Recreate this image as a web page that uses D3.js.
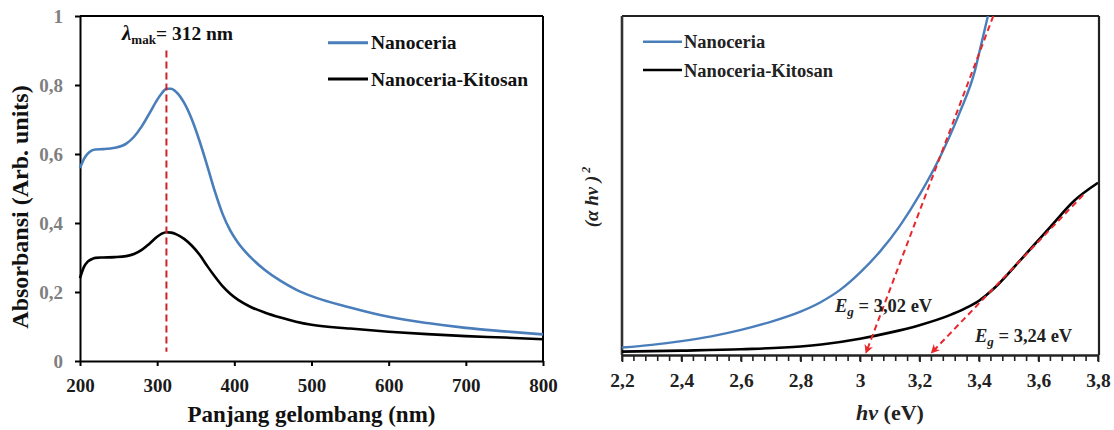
<!DOCTYPE html>
<html><head><meta charset="utf-8">
<script src="https://cdn.jsdelivr.net/npm/d3@7"></script>
<style>
body{margin:0;background:#fff}
svg{display:block}
text{font-family:"Liberation Serif","Times New Roman",serif;font-weight:bold}
</style>
</head><body>
<svg id="chart" width="1114" height="430"></svg>
<script>
// ---------- Left panel data: UV-Vis absorbance ----------
const wavelength = [200,205,210,215,220,230,245,260,270,280,290,300,306,312,318,325,335,345,355,365,375,385,395,405,420,440,460,480,500,550,600,650,700,750,800];
const absNanoceria = [0.559,0.585,0.601,0.610,0.613,0.614,0.618,0.630,0.650,0.680,0.718,0.757,0.776,0.789,0.789,0.779,0.748,0.700,0.637,0.565,0.490,0.425,0.377,0.342,0.303,0.263,0.232,0.207,0.188,0.155,0.128,0.110,0.096,0.086,0.077];
const absKitosan = [0.240,0.272,0.288,0.295,0.299,0.300,0.301,0.304,0.310,0.322,0.340,0.360,0.369,0.373,0.372,0.367,0.354,0.334,0.308,0.275,0.244,0.216,0.194,0.177,0.158,0.140,0.126,0.114,0.105,0.094,0.085,0.078,0.072,0.068,0.063];
const lambdaMax = 312;
const absTicks = [0,0.2,0.4,0.6,0.8,1];
const wlTicks = [200,300,400,500,600,700,800];

// ---------- Right panel data: Tauc plot ----------
const hvNanoceria = [2.2,2.3,2.4,2.5,2.6,2.7,2.8,2.866,2.933,3.0,3.067,3.134,3.202,3.269,3.336,3.387,3.403,3.43];
const taucNanoceria = [0.022,0.030,0.041,0.055,0.074,0.098,0.128,0.155,0.192,0.243,0.305,0.381,0.475,0.584,0.717,0.841,0.900,1.0];
const hvKitosan = [2.2,2.4,2.6,2.8,2.87,3.0,3.1,3.2,3.3,3.35,3.4,3.45,3.53,3.64,3.72,3.8];
const taucKitosan = [0.010,0.013,0.017,0.025,0.031,0.048,0.066,0.088,0.117,0.136,0.160,0.196,0.271,0.378,0.455,0.508];
const bandGaps = [3.02, 3.24];
const tangentTopHv = [3.448, 3.75];
const tangentTopVal = [1.0, 0.472];
const hvTicks = [2.2,2.4,2.6,2.8,3.0,3.2,3.4,3.6,3.8];
const seriesNames = ["Nanoceria","Nanoceria-Kitosan"];
const seriesColors = ["#4a7ebb","#000000"];

const svg = d3.select("#chart");
const comma = d => (Math.abs(d - Math.round(d)) < 1e-9 ? String(Math.round(d)) : d3.format(".1f")(d).replace(".", ","));

// ================= LEFT PANEL =================
const xL = d3.scaleLinear().domain([200,800]).range([80,543]);
const yL = d3.scaleLinear().domain([0,1]).range([361,16]);
const L = svg.append("g");

L.append("line").attr("x1",xL(200)).attr("x2",xL(800)).attr("y1",yL(1)).attr("y2",yL(1)).attr("stroke","#000").attr("stroke-width",2);
L.append("line").attr("x1",xL(800)).attr("x2",xL(800)).attr("y1",yL(1)).attr("y2",yL(0)).attr("stroke","#000").attr("stroke-width",2);

const ay = L.append("g").attr("transform",`translate(${xL(200)},0)`)
  .call(d3.axisLeft(yL).tickValues(absTicks).tickSize(5).tickSizeOuter(0).tickPadding(12).tickFormat(comma));
ay.select(".domain").attr("stroke","#000").attr("stroke-width",2);
ay.selectAll(".tick line").attr("stroke","#000").attr("stroke-width",2);
ay.selectAll(".tick text").attr("font-size",19).attr("fill","#7f7f7f").attr("font-family",null);

const ax = L.append("g").attr("transform",`translate(0,${yL(0)})`)
  .call(d3.axisBottom(xL).tickValues(wlTicks).tickSize(5).tickSizeOuter(0).tickPadding(12.5));
ax.select(".domain").attr("stroke","#000").attr("stroke-width",2);
ax.selectAll(".tick line").attr("stroke","#000").attr("stroke-width",2);
ax.selectAll(".tick text").attr("font-size",19).attr("fill","#1a1a1a").attr("font-family",null);

const lineL = (ys) => d3.line().x((d,i)=>xL(wavelength[i])).y(d=>yL(d)).curve(d3.curveMonotoneX)(ys);
L.append("path").attr("d",lineL(absKitosan)).attr("fill","none").attr("stroke",seriesColors[1]).attr("stroke-width",2.6);
L.append("path").attr("d",lineL(absNanoceria)).attr("fill","none").attr("stroke",seriesColors[0]).attr("stroke-width",2.6);

L.append("line").attr("x1",xL(lambdaMax)).attr("x2",xL(lambdaMax)).attr("y1",yL(0.9)).attr("y2",yL(0.027))
  .attr("stroke","#cc2229").attr("stroke-width",2).attr("stroke-dasharray","7,4");

const lt = L.append("text").attr("x",122).attr("y",39.5).attr("font-size",19.5).attr("fill","#111");
lt.append("tspan").attr("font-style","italic").attr("font-size",21).text("λ");
lt.append("tspan").attr("font-size",13).attr("dy",4).text("mak");
lt.append("tspan").attr("dy",-4).text(`= ${lambdaMax} nm`);

L.append("text").attr("transform","translate(28,207) rotate(-90)").attr("text-anchor","middle")
  .attr("font-size",24).attr("fill","#111").text("Absorbansi (Arb. units)");
L.append("text").attr("x",311.5).attr("y",421.5).attr("text-anchor","middle")
  .attr("font-size",23).attr("fill","#111").text("Panjang gelombang (nm)");

seriesNames.forEach((n,i)=>{
  const yy = [42.7,79][i];
  L.append("line").attr("x1",328).attr("x2",368).attr("y1",yy).attr("y2",yy).attr("stroke",seriesColors[i]).attr("stroke-width",3);
  L.append("text").attr("x",371).attr("y",yy+6.6).attr("font-size",19.5).attr("fill","#111").text(n);
});

// ================= RIGHT PANEL =================
const xR = d3.scaleLinear().domain([2.2,3.8]).range([622,1098]);
const yR = d3.scaleLinear().domain([0,1]).range([355,16]);
const R = svg.append("g");

R.append("defs").append("clipPath").attr("id","clipR").append("rect")
  .attr("x",xR(2.2)).attr("y",yR(1)).attr("width",xR(3.8)-xR(2.2)).attr("height",yR(0)-yR(1));
const mk = svg.select("defs").append("marker").attr("id","arrow").attr("viewBox","0 0 10 10")
  .attr("refX",9).attr("refY",5).attr("markerWidth",10).attr("markerHeight",9)
  .attr("markerUnits","userSpaceOnUse").attr("orient","auto");
mk.append("path").attr("d","M0,0 L10,5 L0,10 L3,5 Z").attr("fill","#e8262b");

// frame
R.append("line").attr("x1",xR(2.2)).attr("x2",xR(3.8)+1).attr("y1",yR(1)).attr("y2",yR(1)).attr("stroke","#222").attr("stroke-width",2.2);
R.append("line").attr("x1",xR(3.8)+1).attr("x2",xR(3.8)+1).attr("y1",yR(1)).attr("y2",yR(0)).attr("stroke","#222").attr("stroke-width",2.2);
R.append("line").attr("x1",xR(2.2)).attr("x2",xR(2.2)).attr("y1",yR(1)).attr("y2",yR(0)).attr("stroke","#333").attr("stroke-width",2.6);

const minor = d3.range(0,41).map(i=>2.2+i*0.04);
R.append("g").selectAll("line").data(minor).join("line")
  .attr("x1",d=>xR(d)).attr("x2",d=>xR(d)).attr("y1",yR(0)).attr("y2",yR(0)+6)
  .attr("stroke","#222").attr("stroke-width",1.6);
const axR = R.append("g").attr("transform",`translate(0,${yR(0)})`)
  .call(d3.axisBottom(xR).tickValues(hvTicks).tickSize(7).tickSizeOuter(0).tickPadding(11).tickFormat(comma));
axR.select(".domain").attr("stroke","#222").attr("stroke-width",2.6);
axR.selectAll(".tick line").attr("stroke","#222").attr("stroke-width",1.8);
axR.selectAll(".tick text").attr("font-size",19.5).attr("fill","#222").attr("font-family",null);

const lineR = (xs,ys) => d3.line().x((d,i)=>xR(xs[i])).y(d=>yR(d)).curve(d3.curveMonotoneX)(ys);
const plotR = R.append("g").attr("clip-path","url(#clipR)");
plotR.append("path").attr("d",lineR(hvKitosan,taucKitosan)).attr("fill","none").attr("stroke",seriesColors[1]).attr("stroke-width",2.6);
plotR.append("path").attr("d",lineR(hvNanoceria,taucNanoceria)).attr("fill","none").attr("stroke",seriesColors[0]).attr("stroke-width",2.4);

bandGaps.forEach((eg,i)=>{
  R.append("line").attr("x1",xR(tangentTopHv[i])).attr("y1",yR(tangentTopVal[i]))
    .attr("x2",xR(eg)).attr("y2",yR(0.006))
    .attr("stroke","#e8262b").attr("stroke-width",2).attr("stroke-dasharray","6,4")
    .attr("marker-end","url(#arrow)");
});

const egPos = [[835,311.7],[975,341.7]];
bandGaps.forEach((eg,i)=>{
  const t = R.append("text").attr("x",egPos[i][0]).attr("y",egPos[i][1]).attr("font-size",18.5).attr("fill","#222");
  t.append("tspan").attr("font-style","italic").text("E");
  t.append("tspan").attr("font-style","italic").attr("font-size",13).attr("dy",4).text("g");
  t.append("tspan").attr("dy",-4).text(" = " + String(eg).replace(".",",") + " eV");
});

seriesNames.forEach((n,i)=>{
  const yy = [41.7,70][i];
  R.append("line").attr("x1",643).attr("x2",682).attr("y1",yy).attr("y2",yy).attr("stroke",seriesColors[i]).attr("stroke-width",2.6);
  R.append("text").attr("x",684).attr("y",yy+6.5).attr("font-size",18.5).attr("fill","#222").text(n);
});

const yt = R.append("text").attr("transform","translate(598,197) rotate(-90)").attr("text-anchor","middle")
  .attr("font-size",19).attr("fill","#222").attr("font-style","italic");
yt.append("tspan").text("(α hν )");
yt.append("tspan").attr("font-size",12).attr("dy",-8).text(" 2");

const xt = R.append("text").attr("x",890).attr("y",420).attr("text-anchor","middle").attr("font-size",22).attr("fill","#222");
xt.append("tspan").attr("font-style","italic").text("hν");
xt.append("tspan").text(" (eV)");
</script>
</body></html>
